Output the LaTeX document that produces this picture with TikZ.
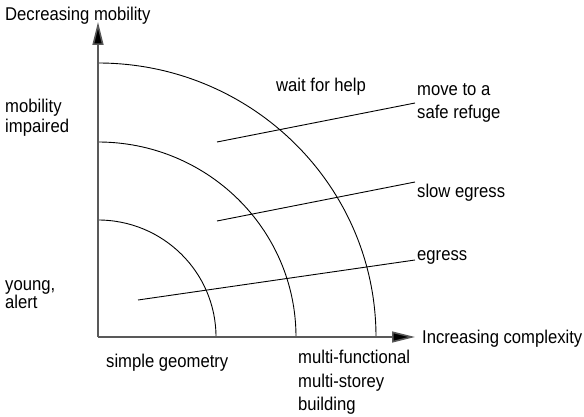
\documentclass[tikz,border=0pt]{standalone}
\usepackage{fontspec}
\setmainfont[FakeStretch=0.9]{Liberation Sans}
\usetikzlibrary{arrows.meta}
\begin{document}
\begin{tikzpicture}[x=1pt,y=-1pt,
  axis/.style={line width=1.6pt,draw=black!65,-{Triangle[length=23pt,width=11pt,fill=black]}},
  zone/.style={line width=0.9pt,draw=black},
  lead/.style={line width=0.9pt,draw=black},
  lbl/.style={anchor=base west,inner sep=0pt,font=\fontsize{18.5}{20}\selectfont}]
\useasboundingbox (0,0) rectangle (584,417);
\coordinate (O) at (98,337);
% arcs
\draw[zone] (216,337) arc[start angle=0,end angle=90,x radius=118,y radius=-117];
\draw[zone] (296,337) arc[start angle=0,end angle=90,x radius=198,y radius=-195];
\draw[zone] (376,337) arc[start angle=0,end angle=90,x radius=278,y radius=-274];
% axes
\coordinate (ytip) at (98,22);
\coordinate (xtip) at (415,337);
\draw[axis] (O) -- (ytip);
\draw[axis] (O) -- (xtip);
% leader lines
\coordinate (e1) at (138,300);
\coordinate (e2) at (415,260);
\coordinate (s1) at (217,221);
\coordinate (s2) at (415,182);
\coordinate (m1) at (217,142);
\coordinate (m2) at (415,103);
\draw[lead] (e1) -- (e2);
\draw[lead] (s1) -- (s2);
\draw[lead] (m1) -- (m2);
% labels
\node[lbl] (ttl) at (5,21) {Decreasing mobility};
\node[lbl] (mob) at (5,113) {mobility};
\node[lbl] (imp) at (5,133) {impaired};
\node[lbl] (yng) at (5,290) {young,};
\node[lbl] (alr) at (5,308) {alert};
\node[lbl] (smp) at (106,367) {simple geometry};
\node[lbl] (mf1) at (298,363) {multi-functional};
\node[lbl] (mf2) at (298,387) {multi-storey};
\node[lbl] (mf3) at (298,410) {building};
\node[lbl] (inc) at (422,343) {Increasing complexity};
\node[lbl] (wfh) at (276,92) {wait for help};
\node[lbl] (mv1) at (417,96) {move to a};
\node[lbl] (mv2) at (417,119) {safe refuge};
\node[lbl] (slw) at (417,197) {slow egress};
\node[lbl] (egr) at (417,260) {egress};
\end{tikzpicture}
\end{document}
